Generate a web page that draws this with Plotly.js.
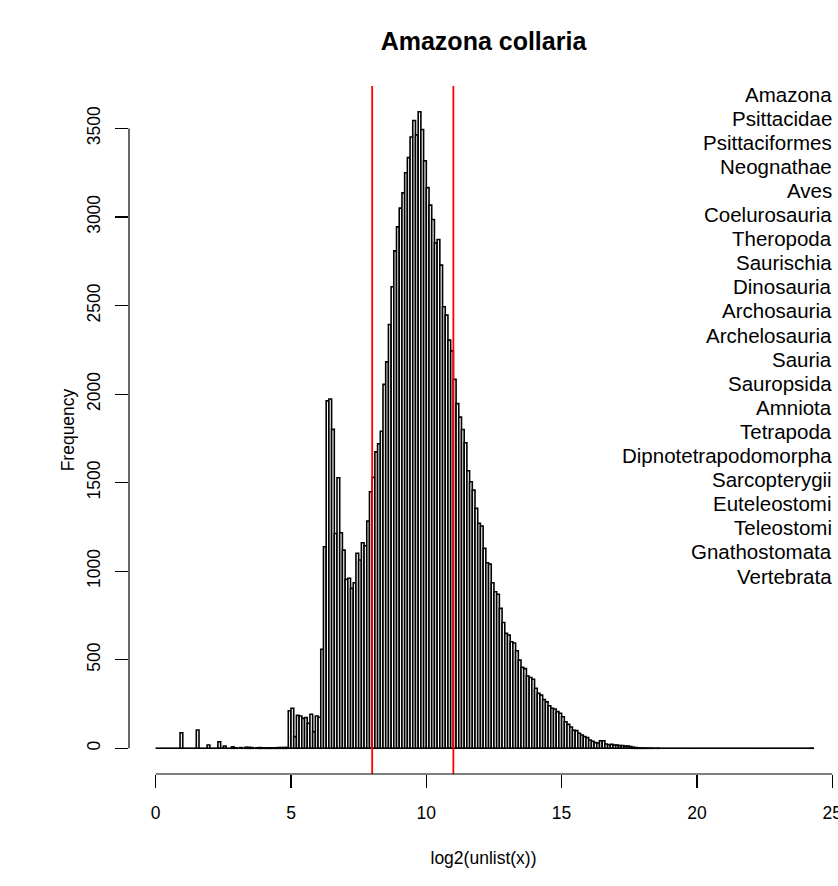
<!DOCTYPE html>
<html>
<head>
<meta charset="utf-8">
<script src="https://cdn.plot.ly/plotly-3.0.1.min.js"></script>
<style>
html,body{margin:0;padding:0;background:#ffffff;}
#chart{width:838px;height:886px;}
</style>
</head>
<body>
<div id="chart"></div>
<script>
// ---- data ----
const mainTitle = "Amazona collaria";
const xLabel = "log2(unlist(x))";
const yLabel = "Frequency";

// histogram breaks: first break and bin width
const binStart = 0;
const binWidth = 0.1;

// counts per bin, bins (0.0-0.1], (0.1-0.2], ... (24.2-24.3]
const counts = [
  // 0.0 - 0.9
  0, 0, 0, 0, 0, 0, 0, 0, 0, 88,
  // 1.0 - 1.9
  0, 0, 0, 0, 0, 103, 0, 0, 0, 19,
  // 2.0 - 2.9
  0, 0, 0, 37, 0, 13, 0, 0, 8, 3,
  // 3.0 - 3.9
  0, 4, 0, 6, 5, 4, 0, 3, 4, 3,
  // 4.0 - 4.9
  2, 3, 3, 3, 3, 4, 4, 4, 5, 212,
  // 5.0 - 5.9
  226, 66, 186, 182, 169, 173, 141, 192, 94, 182,
  // 6.0 - 6.9
  175, 559, 1138, 1962, 1972, 1801, 1213, 1528, 1217, 1119,
  // 7.0 - 7.9
  954, 960, 903, 935, 1101, 1063, 1161, 1144, 1283, 1449,
  // 8.0 - 8.9
  1530, 1674, 1720, 1790, 2055, 2182, 2393, 2606, 2809, 2944,
  // 9.0 - 9.9
  3050, 3136, 3250, 3335, 3452, 3545, 3464, 3594, 3494, 3317,
  // 10.0 - 10.9
  3166, 3067, 2986, 2854, 2873, 2728, 2493, 2446, 2305, 2244,
  // 11.0 - 11.9
  2083, 1946, 1870, 1800, 1725, 1567, 1505, 1458, 1355, 1270,
  // 12.0 - 12.9
  1255, 1129, 1048, 1040, 935, 884, 870, 790, 710, 649,
  // 13.0 - 13.9
  640, 602, 595, 551, 498, 457, 450, 408, 400, 390,
  // 14.0 - 14.9
  339, 310, 300, 275, 262, 240, 226, 222, 207, 198,
  // 15.0 - 15.9
  178, 150, 135, 120, 102, 100, 85, 75, 66, 60,
  // 16.0 - 16.9
  47, 40, 32, 30, 43, 43, 24, 20, 22, 18,
  // 17.0 - 17.9
  18, 15, 15, 12, 12, 10, 6, 4, 3, 2,
  // 18.0 - 18.9
  2, 1, 1, 1, 0, 1, 0, 0, 0, 0,
  // 19.0 - 19.9
  0, 0, 0, 0, 0, 0, 0, 0, 0, 0,
  // 20.0 - 20.9
  0, 0, 0, 0, 0, 0, 0, 0, 0, 0,
  // 21.0 - 21.9
  0, 0, 0, 0, 0, 0, 0, 0, 0, 0,
  // 22.0 - 22.9
  0, 0, 0, 0, 0, 0, 0, 0, 0, 0,
  // 23.0 - 23.9
  0, 0, 0, 0, 0, 0, 0, 0, 0, 0,
  // 24.0 - 24.2
  0, 0, 1
];

// vertical reference lines
const cutLines = [8, 11];

// lineage labels listed at the right
const taxa = [
  "Amazona", "Psittacidae", "Psittaciformes", "Neognathae", "Aves",
  "Coelurosauria", "Theropoda", "Saurischia", "Dinosauria", "Archosauria",
  "Archelosauria", "Sauria", "Sauropsida", "Amniota", "Tetrapoda",
  "Dipnotetrapodomorpha", "Sarcopterygii", "Euteleostomi", "Teleostomi",
  "Gnathostomata", "Vertebrata"
];

const xTicks = [0, 5, 10, 15, 20, 25];
const yTicks = [0, 500, 1000, 1500, 2000, 2500, 3000, 3500];

// ---- build ----
const binCenters = counts.map((c, i) => binStart + binWidth * (i + 0.5));
const firstEdge = binStart;
const lastEdge = binStart + binWidth * counts.length;

const FONT = '"Liberation Sans", Arial, Helvetica, sans-serif';
const FS_AXIS = 17.5;
const FS_TEXT = 20.5;

const W = 838, H = 886;
const M = {l: 129, r: 0, t: 86, b: 112};
const plotH = H - M.t - M.b;
const plotW = W - M.l - M.r;

const bars = {
  type: 'bar',
  x: binCenters,
  y: counts,
  width: binWidth,
  marker: {color: '#ffffff', line: {color: '#000000', width: 1.6}},
  hoverinfo: 'x+y',
  showlegend: false
};

const baseline = {
  type: 'scatter',
  mode: 'lines',
  x: [firstEdge, lastEdge],
  y: [0, 0],
  line: {color: '#000000', width: 1.2},
  hoverinfo: 'skip',
  showlegend: false
};

const shapes = [];
cutLines.forEach(v => shapes.push({
  type: 'line', xref: 'x', yref: 'paper', x0: v, x1: v, y0: 0, y1: 1,
  line: {color: '#ff0000', width: 1.8}
}));
// R-style axis lines spanning first to last tick
shapes.push({type: 'line', xref: 'x', yref: 'paper',
  x0: xTicks[0], x1: xTicks[xTicks.length - 1], y0: 0, y1: 0,
  line: {color: '#000000', width: 1.2}});
shapes.push({type: 'line', xref: 'paper', yref: 'y',
  x0: 0, x1: 0, y0: yTicks[0], y1: yTicks[yTicks.length - 1],
  line: {color: '#000000', width: 1.2}});

// right-hand labels: first at y=94px, spacing 24.1px, right edge at 834px
const annotations = taxa.map((t, i) => ({
  text: t,
  xref: 'paper', yref: 'paper',
  x: (834 - M.l) / plotW,
  y: (H - M.b - (94 + 24.1 * i)) / plotH,
  xanchor: 'right', yanchor: 'middle',
  showarrow: false,
  font: {family: FONT, size: FS_TEXT, color: '#000000'}
}));

const pxPerX = 27.06;
const pxPerY = 0.1771;
const xMin = -(155.7 - M.l) / pxPerX;
const xMax = xMin + plotW / pxPerX;
const yMin = -((H - M.b) - 748.3) / pxPerY;
const yMax = (748.3 - M.t) / pxPerY;

const layout = {
  width: W, height: H,
  margin: M,
  paper_bgcolor: '#ffffff',
  plot_bgcolor: '#ffffff',
  font: {family: FONT, size: FS_AXIS, color: '#000000'},
  title: {
    text: '<b>' + mainTitle + '</b>',
    font: {family: FONT, size: 25, color: '#000000'},
    x: 0.5, xref: 'paper', xanchor: 'center',
    y: 1 - 41 / H, yref: 'container', yanchor: 'middle'
  },
  bargap: 0,
  showlegend: false,
  xaxis: {
    range: [xMin, xMax],
    tickmode: 'array', tickvals: xTicks, ticktext: xTicks.map(String),
    ticks: 'outside', ticklen: 13, tickwidth: 1.2, tickcolor: '#000000',
    showline: false, showgrid: false, zeroline: false,
    tickfont: {family: FONT, size: FS_AXIS, color: '#000000'},
    ticklabelstandoff: 10,
    ticklabeloverflow: 'allow',
    title: {text: xLabel, font: {family: FONT, size: FS_AXIS, color: '#000000'}, standoff: 29}
  },
  yaxis: {
    range: [yMin, yMax],
    tickmode: 'array', tickvals: yTicks, ticktext: yTicks.map(String),
    ticks: 'outside', ticklen: 13, tickwidth: 1.2, tickcolor: '#000000',
    tickangle: -90,
    showline: false, showgrid: false, zeroline: false,
    tickfont: {family: FONT, size: FS_AXIS, color: '#000000'},
    ticklabelstandoff: 8,
    title: {text: yLabel, font: {family: FONT, size: FS_AXIS, color: '#000000'}, standoff: 4}
  },
  shapes: shapes,
  annotations: annotations
};

Plotly.newPlot('chart', [bars, baseline], layout, {displayModeBar: false, staticPlot: true});
</script>
</body>
</html>
